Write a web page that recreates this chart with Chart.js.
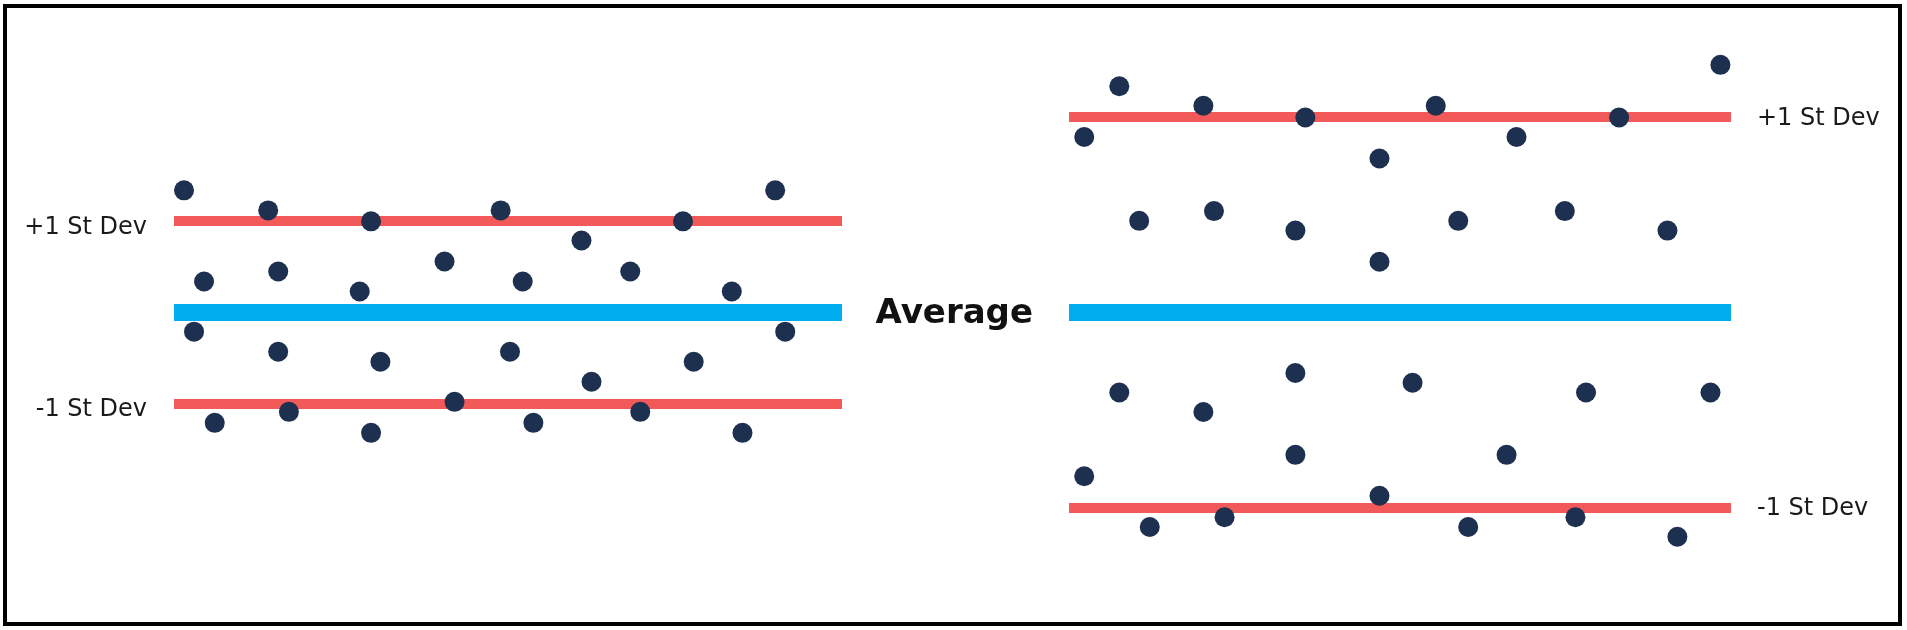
<!DOCTYPE html>
<html>
<head>
<meta charset="utf-8">
<title>Average and standard deviation</title>
<script src="https://cdn.jsdelivr.net/npm/chart.js@4/dist/chart.umd.min.js"></script>
<style>
    html, body { margin: 0; padding: 0; background: #fff; }
    body { width: 1907px; height: 630px; position: relative; overflow: hidden; }
    #frame { position: absolute; left: 3px; top: 4px; width: 1899px; height: 622px; border: 4px solid #000; box-sizing: border-box; }
    .box { position: absolute; }
    #boxLeft { left: 10px; top: 39px; width: 832px; height: 547px; }
    #boxRight { left: 869px; top: 20px; width: 1012px; height: 585px; }
</style>
</head>
<body>
<div id="frame"></div>
<div class="box" id="boxLeft"><canvas id="chartLeft"></canvas></div>
<div class="box" id="boxRight"><canvas id="chartRight"></canvas></div>
<script>
// tick labels
const bandTicks = [-1, 0, 1];
const bandLabels = ["-1 St Dev", "", "+1 St Dev"];
const averageLabel = "Average";

// left group: small spread (x = position along the band 0-100, y = distance from average in st dev)
const smallSpreadX = [1.5, 14.1, 29.5, 48.9, 76.2, 90.0, 61.0, 4.5, 15.6, 27.8, 40.5, 52.2, 68.3, 83.5,
    3.0, 15.6, 30.9, 50.3, 62.5, 77.8, 91.5, 6.1, 17.2, 29.5, 42.0, 53.8, 69.8, 85.1];
const smallSpreadY = [1.34, 1.12, 1.0, 1.12, 1.0, 1.34, 0.79, 0.34, 0.45, 0.23, 0.56, 0.34, 0.45, 0.23,
    -0.21, -0.43, -0.54, -0.43, -0.76, -0.54, -0.21, -1.21, -1.09, -1.32, -0.98, -1.21, -1.09, -1.32];

// right group: large spread
const largeSpreadX = [7.6, 20.3, 35.7, 55.4, 83.1, 98.4, 2.3, 46.9, 67.6, 10.6, 21.9, 34.2, 46.9, 58.8, 74.9, 90.4,
    7.6, 20.3, 34.2, 51.9, 78.1, 96.9, 34.2, 66.1, 2.3, 46.9, 12.2, 23.5, 60.3, 76.5, 91.9];
const largeSpreadY = [1.16, 1.06, 1.0, 1.06, 1.0, 1.27, 0.90, 0.79, 0.90, 0.47, 0.52, 0.42, 0.26, 0.47, 0.52, 0.42,
    -0.41, -0.51, -0.31, -0.36, -0.41, -0.41, -0.73, -0.73, -0.84, -0.94, -1.10, -1.05, -1.10, -1.05, -1.15];

const corPonto = "#1e3050";
const corMedia = "#00aeef";
const corDesvio = "#f25a5a";

function pontos(xs, ys) {
    return xs.map((x, i) => ({ x: x, y: ys[i] }));
}

// y axis with the three band lines drawn as grid lines
function eixoBandas(position, range, padding, labelOffset) {
    return {
        type: "linear",
        position: position,
        min: -range,
        max: range,
        afterBuildTicks: (scale) => { scale.ticks = bandTicks.map(v => ({ value: v })); },
        afterFit: (scale) => {
            scale.width = position === "left" ? 164 : 150;
            scale.paddingTop = 0;
            scale.paddingBottom = 0;
        },
        grid: {
            drawTicks: false,
            color: (ctx) => ctx.tick && ctx.tick.value === 0 ? corMedia : corDesvio,
            lineWidth: (ctx) => ctx.tick && ctx.tick.value === 0 ? 17 : 10
        },
        border: { display: false },
        ticks: {
            padding: padding,
            labelOffset: labelOffset,
            color: "#1a1a1a",
            font: { family: "DejaVu Sans", size: 24 },
            callback: (value) => bandLabels[bandTicks.indexOf(value)]
        }
    };
}

const eixoX = { type: "linear", min: 0, max: 100, display: false };

const config1 = {
    type: "scatter",
    data: {
        datasets: [{
            data: pontos(smallSpreadX, smallSpreadY),
            backgroundColor: corPonto,
            borderWidth: 0,
            pointRadius: 10,
            clip: false
        }]
    },
    options: {
        responsive: true,
        maintainAspectRatio: false,
        animation: false,
        events: [],
        layout: { padding: 0, autoPadding: false },
        plugins: { legend: { display: false }, tooltip: { enabled: false } },
        scales: {
            x: eixoX,
            y: eixoBandas("left", 3, 27, 6)
        }
    }
};

const config2 = {
    type: "scatter",
    data: {
        datasets: [{
            data: pontos(largeSpreadX, largeSpreadY),
            backgroundColor: corPonto,
            borderWidth: 0,
            pointRadius: 10,
            clip: false,
            yAxisID: "y"
        }]
    },
    options: {
        responsive: true,
        maintainAspectRatio: false,
        animation: false,
        events: [],
        layout: { padding: 0, autoPadding: false },
        plugins: { legend: { display: false }, tooltip: { enabled: false } },
        scales: {
            x: eixoX,
            y: eixoBandas("right", 1.5, 26, 1),
            // only used to put the "Average" label between the two groups
            media: {
                type: "linear",
                position: "left",
                min: -1.5,
                max: 1.5,
                afterBuildTicks: (scale) => { scale.ticks = [{ value: 0 }]; },
                afterFit: (scale) => {
                    scale.width = 200;
                    scale.paddingTop = 0;
                    scale.paddingBottom = 0;
                },
                grid: { display: false, drawTicks: false },
                border: { display: false },
                ticks: {
                    padding: 36,
                    labelOffset: 2,
                    color: "#111",
                    font: { family: "DejaVu Sans", size: 34, weight: "bold" },
                    callback: () => averageLabel
                }
            }
        }
    }
};

var grafico1 = new Chart(document.getElementById("chartLeft"), config1);
var grafico2 = new Chart(document.getElementById("chartRight"), config2);
</script>
</body>
</html>
